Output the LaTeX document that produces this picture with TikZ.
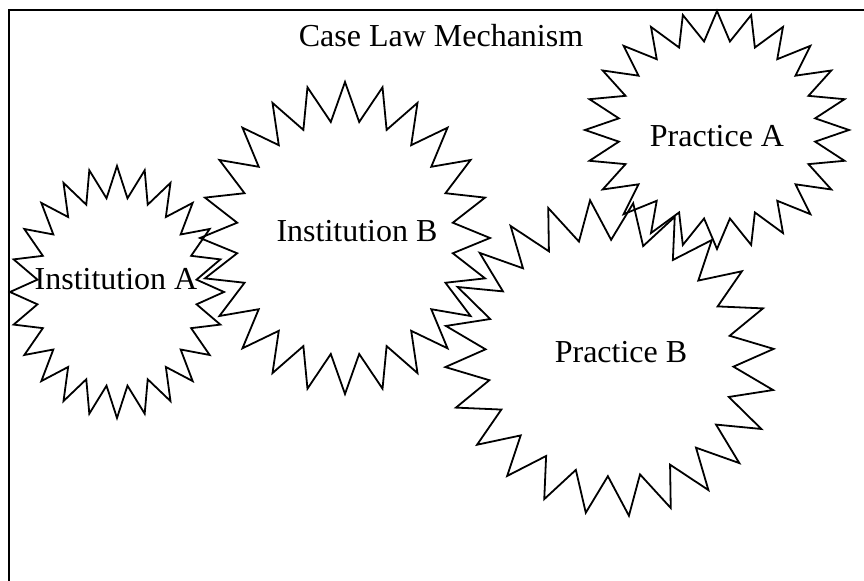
\documentclass[tikz,border=0pt]{standalone}
\usepackage{fontspec}
\setmainfont{Liberation Serif}
\usetikzlibrary{positioning}

% star outline: centre x, centre y, x radius, y radius, turn, slant
\newcommand{\drawburst}[6]{%
  \draw[burst line] plot[variable=\k, samples at={0,...,47}]
    ({#1+(1-0.25*mod(\k,2))*(#3*cos(#5+7.5*\k)+#6*#4*sin(#5+7.5*\k))},
     {#2+#4*(1-0.25*mod(\k,2))*sin(#5+7.5*\k)}) -- cycle;
}

\tikzset{
  burst line/.style={line width=0.9pt, line join=miter},
  frame line/.style={line width=0.7pt},
  lbl/.style={font=\fontsize{16}{19}\selectfont, inner sep=0pt, anchor=base}
}

\begin{document}
\begin{tikzpicture}[x=0.5pt, y=-0.5pt]
    \useasboundingbox (0,0) rectangle (864,581);

    % frame
    \draw[frame line] (9,590) -- (9,10) -- (870,10);
    \node[lbl] (title) at (441,47) {Case Law Mechanism};

    % institutions
    \drawburst{117}{292}{107}{126}{0}{0}
    \node[lbl] (instA) at (116,290) {Institution A};
    \drawburst{345}{238}{145}{156}{0}{0}
    \node[lbl] (instB) at (357,242) {Institution B};

    % practices
    \drawburst{717}{130}{132}{119}{0}{0}
    \node[lbl] (pracA) at (717,147) {Practice A};
    \drawburst{609.5}{358}{165}{158}{-3.3}{0.063}
    \node[lbl] (pracB) at (621,363) {Practice B};
\end{tikzpicture}
\end{document}
